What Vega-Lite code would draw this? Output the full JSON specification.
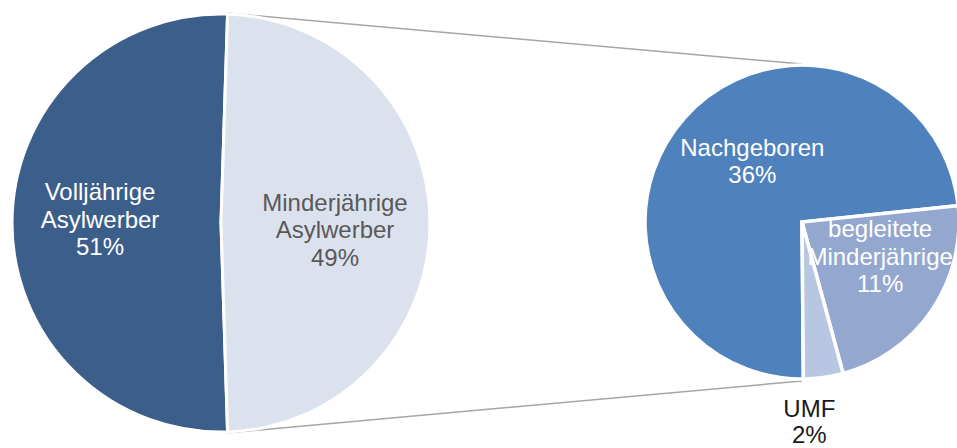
{
  "$schema": "https://vega.github.io/schema/vega-lite/v6.json",
  "width": 957,
  "height": 448,
  "padding": 0,
  "autosize": {"type": "none"},
  "background": "white",
  "config": {"view": {"stroke": null}, "font": "Liberation Sans"},
  "datasets": {
    "main": [
      {"cat": "Volljährige Asylwerber", "value": 51, "label": "Volljährige\nAsylwerber\n51%"},
      {"cat": "Minderjährige Asylwerber", "value": 49, "label": "Minderjährige\nAsylwerber\n49%"}
    ],
    "detail": [
      {"cat": "Nachgeboren", "value": 36, "label": "Nachgeboren\n36%"},
      {"cat": "begleitete Minderjährige", "value": 11, "label": "begleitete\nMinderjährige\n11%"},
      {"cat": "UMF", "value": 2, "label": "UMF\n2%"}
    ]
  },
  "resolve": {"scale": {"theta": "independent"}},
  "layer": [
    {
      "data": {"values": [{"verbindung": "oben"}]},
      "mark": {"type": "rule", "color": "#a6a6a6", "strokeWidth": 1.5},
      "encoding": {
        "x": {"datum": 226, "type": "quantitative", "scale": {"domain": [0, 957], "nice": false, "zero": false}, "axis": null},
        "y": {"datum": 13, "type": "quantitative", "scale": {"domain": [0, 448], "nice": false, "zero": false, "reverse": true}, "axis": null},
        "x2": {"datum": 802},
        "y2": {"datum": 64}
      }
    },
    {
      "data": {"values": [{"verbindung": "unten"}]},
      "mark": {"type": "rule", "color": "#a6a6a6", "strokeWidth": 1.5},
      "encoding": {
        "x": {"datum": 226, "type": "quantitative"},
        "y": {"datum": 433, "type": "quantitative"},
        "x2": {"datum": 802},
        "y2": {"datum": 381}
      }
    },
    {
      "data": {"name": "main"},
      "encoding": {
        "x": {"datum": 221, "type": "quantitative"},
        "y": {"datum": 223, "type": "quantitative"},
        "theta": {"field": "value", "type": "quantitative", "stack": true, "scale": {"range": [0.0314, 6.3146]}},
        "order": {"field": "value", "sort": "ascending"}
      },
      "layer": [
        {
          "mark": {"type": "arc", "outerRadius": 209, "stroke": "white", "strokeWidth": 3},
          "encoding": {
            "color": {
              "field": "cat",
              "type": "nominal",
              "legend": null,
              "scale": {
                "domain": ["Volljährige Asylwerber", "Minderjährige Asylwerber", "Nachgeboren", "begleitete Minderjährige", "UMF"],
                "range": ["#3b5e8b", "#dce2ed", "#4f81bd", "#94a8cf", "#b8c7e1"]
              }
            }
          }
        },
        {
          "mark": {"type": "text", "radius": 121, "dy": -30, "fontSize": 24, "lineBreak": "\n", "lineHeight": 27.5, "align": "center", "baseline": "middle"},
          "encoding": {
            "detail": {"field": "cat"},
            "text": {"condition": {"test": "datum.cat === 'Volljährige Asylwerber'", "field": "label"}, "value": ""},
            "color": {"value": "white"}
          }
        },
        {
          "mark": {"type": "text", "radius": 114, "dy": -19, "fontSize": 24, "lineBreak": "\n", "lineHeight": 27.5, "align": "center", "baseline": "middle"},
          "encoding": {
            "detail": {"field": "cat"},
            "text": {"condition": {"test": "datum.cat === 'Minderjährige Asylwerber'", "field": "label"}, "value": ""},
            "color": {"value": "#595959"}
          }
        }
      ]
    },
    {
      "data": {"name": "detail"},
      "encoding": {
        "x": {"datum": 802, "type": "quantitative"},
        "y": {"datum": 222, "type": "quantitative"},
        "theta": {"field": "value", "type": "quantitative", "stack": true, "scale": {"range": [3.1329, 9.4161]}},
        "order": {"field": "value", "sort": "descending"}
      },
      "layer": [
        {
          "mark": {"type": "arc", "outerRadius": 157, "stroke": "white", "strokeWidth": 3.5},
          "encoding": {
            "color": {"field": "cat", "type": "nominal", "legend": null}
          }
        },
        {
          "mark": {"type": "text", "radius": 80, "dx": 10, "dy": -20, "fontSize": 24, "lineBreak": "\n", "lineHeight": 27.5, "align": "center", "baseline": "middle"},
          "encoding": {
            "detail": {"field": "cat"},
            "text": {"condition": {"test": "datum.cat === 'Nachgeboren'", "field": "label"}, "value": ""},
            "color": {"value": "white"}
          }
        },
        {
          "mark": {"type": "text", "radius": 85, "dx": 8, "dy": -40, "fontSize": 24, "lineBreak": "\n", "lineHeight": 27.5, "align": "center", "baseline": "middle"},
          "encoding": {
            "detail": {"field": "cat"},
            "text": {"condition": {"test": "datum.cat === 'begleitete Minderjährige'", "field": "label"}, "value": ""},
            "color": {"value": "white"}
          }
        },
        {
          "mark": {"type": "text", "radius": 200, "dx": -20, "dy": -10, "fontSize": 24, "lineBreak": "\n", "lineHeight": 26, "align": "center", "baseline": "middle"},
          "encoding": {
            "detail": {"field": "cat"},
            "text": {"condition": {"test": "datum.cat === 'UMF'", "field": "label"}, "value": ""},
            "color": {"value": "#1a1a1a"}
          }
        }
      ]
    }
  ]
}
